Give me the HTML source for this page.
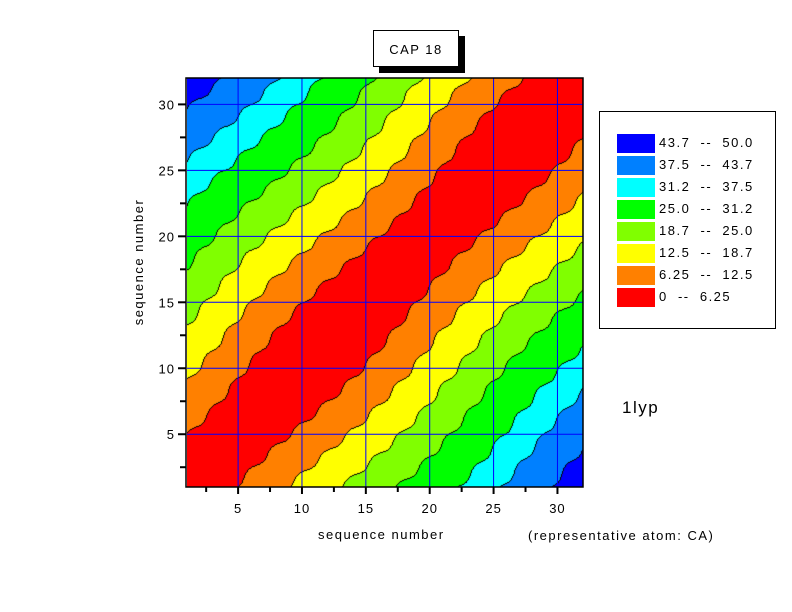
<!DOCTYPE html>
<html><head><meta charset="utf-8"><style>
body{margin:0;background:#fff;width:792px;height:612px;position:relative;overflow:hidden;font-family:"Liberation Sans",sans-serif;}
.t{position:absolute;font-size:13px;letter-spacing:1.5px;color:#000;white-space:nowrap}
</style></head><body>
<canvas id="c" width="396" height="409" style="position:absolute;left:187px;top:78px"></canvas>
<svg width="792" height="612" style="position:absolute;left:0;top:0">
<g id="g"></g>
<rect x="186" y="78" width="397" height="409" fill="none" stroke="#000" stroke-width="1.5"/>
<rect x="379" y="36" width="86" height="37" fill="#000"/>
<rect x="373.5" y="30.5" width="85" height="36" fill="#fff" stroke="#000"/>
<text x="416" y="54" font-size="13" text-anchor="middle" letter-spacing="1.5" font-family="Liberation Sans">CAP 18</text>
<rect x="599.5" y="111.5" width="176" height="217" fill="#fff" stroke="#000"/>
<text x="163" y="282" font-size="13" letter-spacing="1.5" text-anchor="middle" transform="rotate(-90 143 282)" font-family="Liberation Sans">sequence number</text>
</svg>
<div class="t" style="left:318px;top:527px">sequence number</div>
<div class="t" style="left:528px;top:528px">(representative atom: CA)</div>
<div class="t" style="left:622px;top:398px;font-size:17px">1lyp</div>
<div id="leg"></div>
<script>
var cols=["#ff0000","#ff8000","#ffff00","#80ff00","#00ff00","#00ffff","#0080ff","#0000ff"];
var th=[4.3,8.4,12.3,16.3,20.8,24.3,28.5];
var cv=document.getElementById('c'),ctx=cv.getContext('2d'),W=396,H=409;
function band(i,j){var d=Math.abs(i-j)+0.25*Math.sin(2*Math.PI*(i+j)/3.6)+0.5*Math.sin((i+j)/5);var b=0;while(b<7&&d>th[b])b++;return b;}
var B=[];for(var y=0;y<H;y++){B[y]=[];for(var x=0;x<W;x++){var i=1+(x+0.5)/W*31,j=32-(y+0.5)/H*31;B[y][x]=band(i,j);}}
var img=ctx.createImageData(W,H);
function hx(h){return [parseInt(h.substr(1,2),16),parseInt(h.substr(3,2),16),parseInt(h.substr(5,2),16)];}
var rgb=cols.map(hx);
for(var y=0;y<H;y++)for(var x=0;x<W;x++){var b=B[y][x],c=rgb[b];var e=(x<W-1&&B[y][x+1]!=b)||(y<H-1&&B[y+1][x]!=b);if(e)c=[0,0,0];var k=(y*W+x)*4;img.data[k]=c[0];img.data[k+1]=c[1];img.data[k+2]=c[2];img.data[k+3]=255;}
ctx.putImageData(img,0,0);
var g=document.getElementById('g'),s='';
function X(v){return 187+(v-1)/31*396;}function Y(v){return 487-(v-1)/31*409;}
for(var v=5;v<=30;v+=5){s+='<line x1="'+X(v)+'" y1="78" x2="'+X(v)+'" y2="487" stroke="#0000ff"/>';s+='<line x1="187" y1="'+Y(v)+'" x2="583" y2="'+Y(v)+'" stroke="#0000ff"/>';
s+='<text x="'+X(v)+'" y="513" font-size="13" text-anchor="middle" letter-spacing="1" font-family="Liberation Sans">'+v+'</text>';
s+='<text x="175" y="'+(Y(v)+5)+'" font-size="13" text-anchor="end" letter-spacing="1" font-family="Liberation Sans">'+v+'</text>';}
for(var v=2.5;v<=31;v+=2.5){s+='<line x1="'+X(v)+'" y1="487" x2="'+X(v)+'" y2="'+(v%5==0?494:492)+'" stroke="#000" stroke-width="2"/>';s+='<line x1="186" y1="'+Y(v)+'" x2="'+(v%5==0?178:180)+'" y2="'+Y(v)+'" stroke="#000" stroke-width="2"/>';}
g.innerHTML=s;
var labs=["43.7  --  50.0","37.5  --  43.7","31.2  --  37.5","25.0  --  31.2","18.7  --  25.0","12.5  --  18.7","6.25  --  12.5","0  --  6.25"];
var L='';for(var k=0;k<8;k++){var yy=134+k*22;L+='<div style="position:absolute;left:617px;top:'+yy+'px;width:38px;height:19px;background:'+cols[7-k]+'"></div><div class="t" style="left:659px;top:'+(yy+1)+'px;white-space:pre">'+labs[k]+'</div>';}
document.getElementById('leg').innerHTML=L;
</script>
</body></html>
